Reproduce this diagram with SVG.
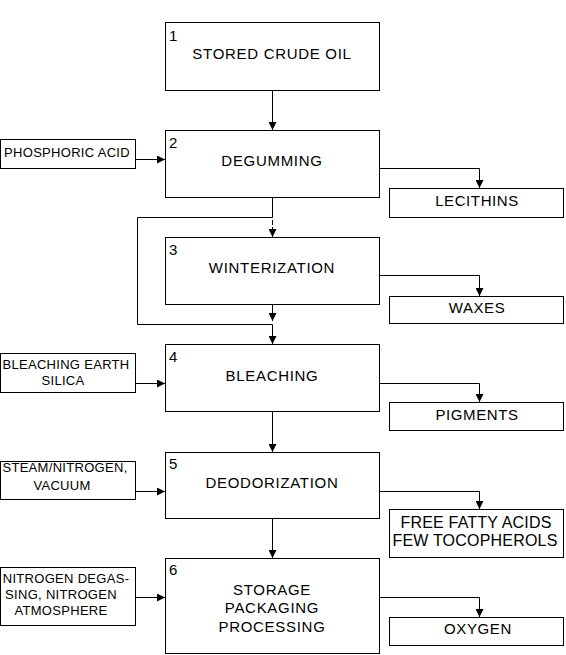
<svg xmlns="http://www.w3.org/2000/svg" width="566" height="655" viewBox="0 0 566 655">
<defs>
<marker id="ah" markerUnits="userSpaceOnUse" markerWidth="8" markerHeight="8" viewBox="0 0 7 7" refX="7" refY="3.5" orient="auto">
<path d="M0,0 L7,3.5 L0,7 z" fill="#000"/>
</marker>
<style>
rect{fill:#fff;stroke:#000;stroke-width:1}
text{font-family:"Liberation Sans",Arial,sans-serif;fill:#000}
.m{font-size:15px;letter-spacing:0.7px;text-anchor:middle}
.n{font-size:15px}
.s{font-size:13px;letter-spacing:0.3px;text-anchor:middle}
.o{font-size:15px;letter-spacing:0.6px;text-anchor:middle}
.f{font-size:16px;letter-spacing:0.2px;text-anchor:middle}
#conn path{fill:none;stroke:#000;stroke-width:1}
.a{marker-end:url(#ah)}
</style>
</defs>
<rect x="0" y="0" width="566" height="655" style="stroke:none"/>
<g id="conn">
<path class="a" d="M272.5,90.5 V130"/>
<path class="a" d="M135.5,159.5 H165"/>
<path class="a" d="M379.5,168.5 H479.5 V188"/>
<path d="M272.5,197.5 V217.5"/>
<path d="M272.5,217.5 H137.5 V324.5 H272.5"/>
<path d="M272.5,220 V225"/>
<path class="a" d="M272.5,227 V237"/>
<path class="a" d="M379.5,275.5 H479.5 V296"/>
<path class="a" d="M272.5,304.5 V321"/>
<path class="a" d="M272.5,324.5 V344"/>
<path class="a" d="M135.5,383.5 H165"/>
<path class="a" d="M379.5,383.5 H479.5 V402"/>
<path class="a" d="M272.5,411.5 V452"/>
<path class="a" d="M135.5,491.5 H165"/>
<path class="a" d="M379.5,491.5 H479.5 V509"/>
<path class="a" d="M272.5,518.5 V558"/>
<path class="a" d="M135.5,597.5 H165"/>
<path class="a" d="M379.5,597.5 H479.5 V617"/>
</g>
<g id="n1">
<rect x="165.5" y="22.5" width="214" height="68"/>
<text class="n" x="169" y="41">1</text>
<text class="m" x="272" y="59">STORED CRUDE OIL</text>
</g>
<g id="n2">
<rect x="165.5" y="130.5" width="214" height="67"/>
<text class="n" x="169" y="148">2</text>
<text class="m" x="272" y="166">DEGUMMING</text>
</g>
<g id="n3">
<rect x="165.5" y="237.5" width="214" height="67"/>
<text class="n" x="169" y="255">3</text>
<text class="m" x="272" y="273">WINTERIZATION</text>
</g>
<g id="n4">
<rect x="165.5" y="344.5" width="214" height="67"/>
<text class="n" x="169" y="362">4</text>
<text class="m" x="272" y="381">BLEACHING</text>
</g>
<g id="n5">
<rect x="165.5" y="452.5" width="214" height="66"/>
<text class="n" x="169" y="469">5</text>
<text class="m" x="272" y="488">DEODORIZATION</text>
</g>
<g id="n6">
<rect x="165.5" y="558.5" width="214" height="95"/>
<text class="n" x="169" y="575">6</text>
<text class="m" x="272" y="595">STORAGE</text>
<text class="m" x="272" y="613">PACKAGING</text>
<text class="m" x="272" y="632">PROCESSING</text>
</g>
<g id="in2">
<rect x="0.5" y="139.5" width="135" height="29"/>
<text class="s" x="67" y="157">PHOSPHORIC ACID</text>
</g>
<g id="in4">
<rect x="0.5" y="353.5" width="135" height="39"/>
<text class="s" x="66" y="369">BLEACHING EARTH</text>
<text class="s" x="63" y="385">SILICA</text>
</g>
<g id="in5">
<rect x="0.5" y="461.5" width="135" height="38"/>
<text class="s" x="65" y="472">STEAM/NITROGEN,</text>
<text class="s" x="62" y="490">VACUUM</text>
</g>
<g id="in6">
<rect x="0.5" y="567.5" width="135" height="58"/>
<text class="s" x="66" y="583">NITROGEN DEGAS-</text>
<text class="s" x="61" y="599">SING, NITROGEN</text>
<text class="s" x="61" y="615">ATMOSPHERE</text>
</g>
<g id="out2">
<rect x="389.5" y="188.5" width="174" height="29"/>
<text class="o" x="477" y="206">LECITHINS</text>
</g>
<g id="out3">
<rect x="389.5" y="296.5" width="174" height="27"/>
<text class="o" x="477" y="313">WAXES</text>
</g>
<g id="out4">
<rect x="389.5" y="402.5" width="174" height="28"/>
<text class="o" x="477" y="420">PIGMENTS</text>
</g>
<g id="out5">
<rect x="389.5" y="509.5" width="174" height="48"/>
<text class="f" x="476" y="528">FREE FATTY ACIDS</text>
<text class="f" x="475" y="546">FEW TOCOPHEROLS</text>
</g>
<g id="out6">
<rect x="389.5" y="617.5" width="174" height="28"/>
<text class="o" x="478" y="634">OXYGEN</text>
</g>
</svg>
